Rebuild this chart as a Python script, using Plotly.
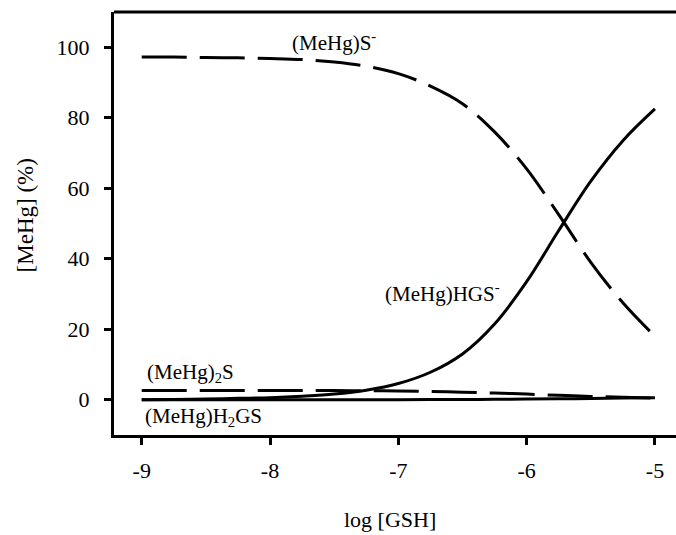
import plotly.graph_objects as go

log_gsh = [-9.0, -8.75, -8.5, -8.25, -8.0, -7.75, -7.5, -7.25, -7.0,
           -6.75, -6.5, -6.25, -6.0, -5.75, -5.5, -5.25, -5.0]
mehg_s = [97.2, 97.2, 97.1, 97.0, 96.8, 96.5, 95.8, 94.6, 92.5,
          89.0, 84.0, 76.0, 65.5, 52.5, 39.0, 27.5, 18.0]
mehg_hgs = [0.0, 0.1, 0.2, 0.4, 0.6, 1.0, 1.6, 2.7, 4.6,
            7.8, 13.0, 21.5, 33.5, 48.0, 62.0, 73.5, 82.5]
mehg2_s = [2.6, 2.6, 2.6, 2.6, 2.6, 2.6, 2.6, 2.55, 2.5,
           2.35, 2.15, 1.9, 1.6, 1.25, 0.95, 0.7, 0.5]
mehg_h2gs = [0.0, 0.0, 0.0, 0.0, 0.0, 0.0, 0.0, 0.0, 0.02,
             0.04, 0.07, 0.12, 0.18, 0.26, 0.36, 0.48, 0.6]

x_ticks = [-9, -8, -7, -6, -5]
y_ticks = [0, 20, 40, 60, 80, 100]

FONT = "Liberation Serif"

fig = go.Figure()
dash = "45px,13px"
fig.add_trace(go.Scatter(x=log_gsh, y=mehg_s, mode="lines", line=dict(color="black", width=3, dash=dash, shape="spline"), name="(MeHg)S-"))
fig.add_trace(go.Scatter(x=log_gsh, y=mehg_hgs, mode="lines", line=dict(color="black", width=3, shape="spline"), name="(MeHg)HGS-"))
fig.add_trace(go.Scatter(x=log_gsh, y=mehg2_s, mode="lines", line=dict(color="black", width=3, dash=dash, shape="spline"), name="(MeHg)2S"))
fig.add_trace(go.Scatter(x=log_gsh, y=mehg_h2gs, mode="lines", line=dict(color="black", width=3, shape="spline"), name="(MeHg)H2GS"))

ann_font = dict(family=FONT, size=21, color="black")
labels = [
    ("(MeHg)S<sup>-</sup>", -7.845, 101.5),
    ("(MeHg)HGS<sup>-</sup>", -7.12, 30.5),
    ("(MeHg)<sub>2</sub>S", -8.975, 7.5),
    ("(MeHg)H<sub>2</sub>GS", -8.99, -5.0),
]
for txt, xx, yy in labels:
    fig.add_annotation(x=xx, y=yy, text=txt, showarrow=False, xanchor="left", yanchor="middle", font=ann_font)

# axis titles
fig.add_annotation(xref="paper", yref="paper", x=0.491, y=-0.2009, text="log [GSH]",
                   showarrow=False, xanchor="center", yanchor="middle",
                   font=dict(family=FONT, size=22, color="black"))
fig.add_annotation(xref="paper", yref="paper", x=-0.1584, y=0.519, text="[MeHg] (%)",
                   showarrow=False, xanchor="center", yanchor="middle", textangle=-90,
                   font=dict(family=FONT, size=23, color="black"))

# top frame line
fig.add_shape(type="line", xref="paper", yref="paper", x0=0, x1=1, y0=1, y1=1,
              line=dict(color="black", width=3))

fig.update_layout(
    width=676, height=535,
    margin=dict(l=114, r=0, t=12, b=100),
    paper_bgcolor="white", plot_bgcolor="white",
    showlegend=False,
    font=dict(family=FONT, size=22, color="black"),
)
fig.update_xaxes(
    range=[-9.216, -4.836], tickvals=x_ticks, ticktext=[str(v) for v in x_ticks],
    showline=True, linewidth=3, linecolor="black", mirror=False,
    ticks="outside", ticklen=7, tickwidth=3, tickcolor="black",
    showgrid=False, zeroline=False, ticklabelstandoff=7,
)
fig.update_yaxes(
    range=[-10, 110], tickvals=y_ticks,
    showline=True, linewidth=3, linecolor="black", mirror=False,
    ticks="outside", ticklen=7, tickwidth=3, tickcolor="black",
    showgrid=False, zeroline=False, ticklabelstandoff=10,
)
fig.write_html("out.html", config={"displayModeBar": False},
               post_script="document.body.style.margin='0';document.body.style.overflow='hidden';")
